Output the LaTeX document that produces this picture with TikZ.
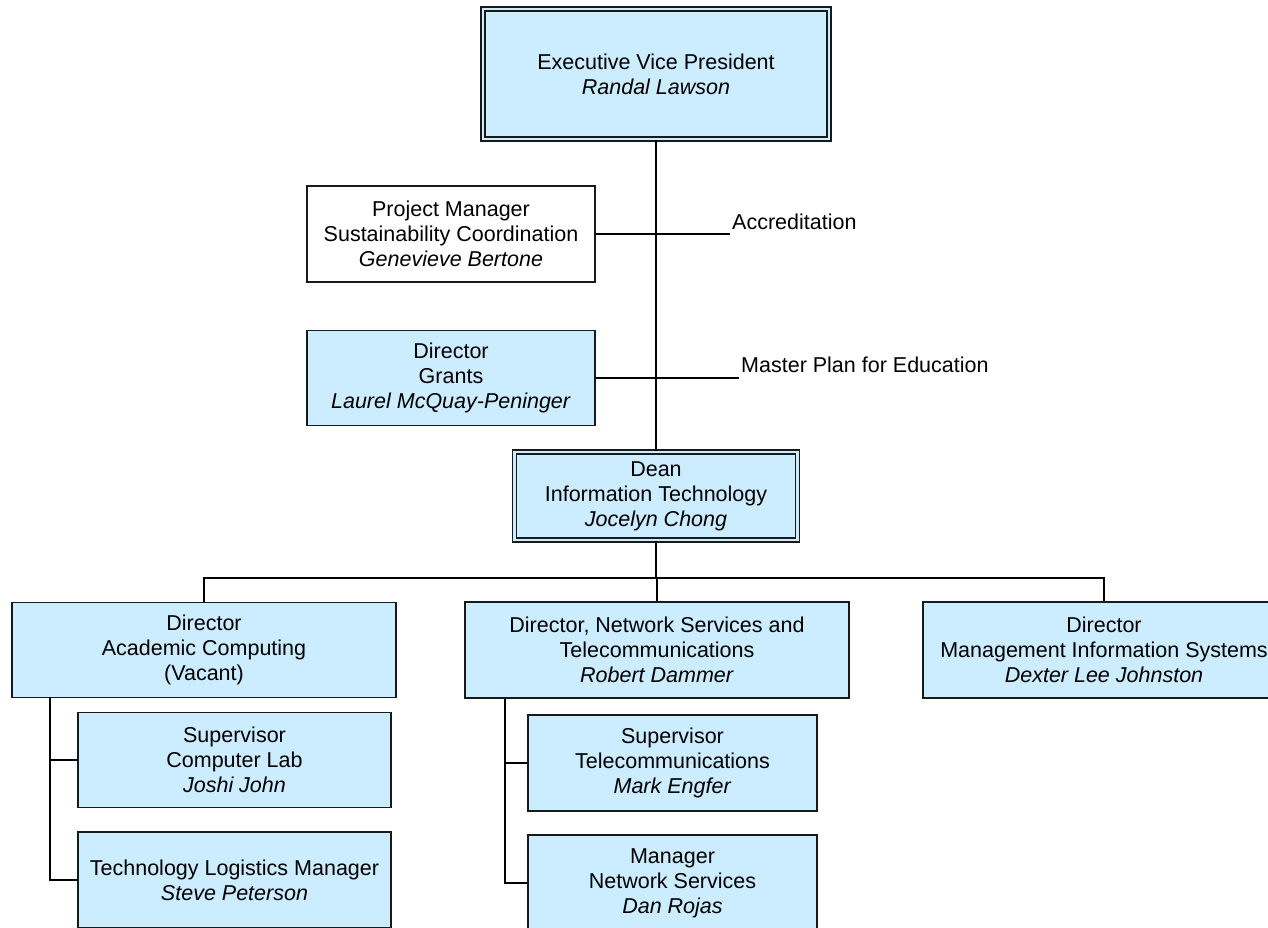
\documentclass[tikz,border=0pt]{standalone}
\usepackage{fontspec}
\setmainfont{Liberation Sans}
\usepackage{tikz}
\definecolor{boxblue}{HTML}{CCECFF}

\begin{document}
\begin{tikzpicture}[x=1pt, y=-1pt,
  every node/.style={font=\fontsize{21.5}{25}\selectfont, align=center},
  unit/.style={draw=black!90, line width=1.4pt, fill=boxblue, inner sep=0pt},
  staff/.style={unit, fill=white},
  head/.style={unit, line width=1.8pt, double=boxblue, double distance=2.2pt},
  wire/.style={line width=1.5pt}]
  \useasboundingbox (0,0) rectangle (1268,928);
  \node[head, minimum width=346pt, minimum height=130pt] (evp) at (656,74) {Executive Vice President\\\textit{Randal Lawson}};
  \node[staff, minimum width=288pt, minimum height=96pt] (pm) at (451,234) {Project Manager\\Sustainability Coordination\\\textit{Genevieve Bertone}};
  \node[unit, minimum width=288pt, minimum height=95pt] (grants) at (451,378) {Director\\Grants\\\textit{Laurel McQuay-Peninger}};
  \node[head, minimum width=283pt, minimum height=88pt] (dean) at (656,496) {Dean\\Information Technology\\\textit{Jocelyn Chong}};
  \node[unit, minimum width=384pt, minimum height=95pt] (acad) at (204,650) {Director\\Academic Computing\\(Vacant)};
  \node[unit, minimum width=384pt, minimum height=96pt] (net) at (657,650) {Director, Network Services and\\Telecommunications\\\textit{Robert Dammer}};
  \node[unit, minimum width=362pt, minimum height=96pt] (mis) at (1104,650) {Director\\Management Information Systems\\\textit{Dexter Lee Johnston}};
  \node[unit, minimum width=313pt, minimum height=95pt] (lab) at (234.5,760) {Supervisor\\Computer Lab\\\textit{Joshi John}};
  \node[unit, minimum width=313pt, minimum height=96pt] (logi) at (234.5,880) {Technology Logistics Manager\\\textit{Steve Peterson}};
  \node[unit, minimum width=289pt, minimum height=96pt] (tel) at (672.5,763) {Supervisor\\Telecommunications\\\textit{Mark Engfer}};
  \node[unit, minimum width=289pt, minimum height=96pt] (nsm) at (672.5,883) {Manager\\Network Services\\\textit{Dan Rojas}};
  % staff lines
  \coordinate (acc) at (730,234);
  \coordinate (mpe) at (739,378);
  \draw[wire] (evp.south) -- (dean.north);
  \draw[wire] (pm.east) -- (acc);
  \draw[wire] (grants.east) -- (mpe);
  \node[anchor=base west, inner sep=0pt] (acctxt) at ([xshift=2pt, yshift=5pt]acc) {Accreditation};
  \node[anchor=base west, inner sep=0pt] (mpetxt) at ([xshift=2pt, yshift=6pt]mpe) {Master Plan for Education};
  % reports
  \coordinate (bus) at (656,578);
  \draw[wire] (dean.south) -- (bus);
  \draw[wire] (acad.north) |- (bus) -| (mis.north);
  \draw[wire] (net.north) -- (net.north |- bus);
  \draw[wire] ([xshift=-154pt]acad.south) |- (lab.west);
  \draw[wire] ([xshift=-154pt]acad.south) |- (logi.west);
  \draw[wire] ([xshift=-152pt]net.south) |- (tel.west);
  \draw[wire] ([xshift=-152pt]net.south) |- (nsm.west);
\end{tikzpicture}
\end{document}
